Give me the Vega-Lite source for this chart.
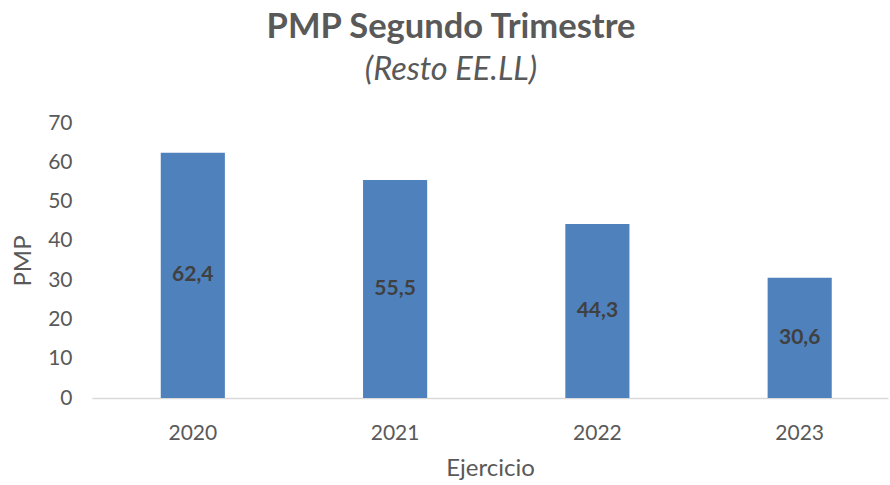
{
  "$schema": "https://vega.github.io/schema/vega-lite/v6.json",
  "width": 796,
  "height": 275,
  "autosize": {"type": "none"},
  "padding": {"left": 92, "top": 123, "right": 2, "bottom": 87},
  "background": "white",
  "config": {"view": {"stroke": null}},
  "title": {
    "text": "PMP Segundo Trimestre",
    "subtitle": "(Resto EE.LL)",
    "anchor": "middle",
    "frame": "group",
    "dx": -39,
    "offset": 25,
    "font": "Lato",
    "fontSize": 34.5,
    "fontWeight": "bold",
    "color": "#595959",
    "subtitleFont": "Lato",
    "subtitleFontSize": 32.5,
    "subtitleFontStyle": "italic",
    "subtitleColor": "#595959",
    "subtitlePadding": 8
  },
  "data": {
    "values": [
      {"Ejercicio": "2020", "PMP": 62.4, "label": "62,4"},
      {"Ejercicio": "2021", "PMP": 55.5, "label": "55,5"},
      {"Ejercicio": "2022", "PMP": 44.3, "label": "44,3"},
      {"Ejercicio": "2023", "PMP": 30.6, "label": "30,6"}
    ]
  },
  "encoding": {
    "x": {
      "field": "Ejercicio",
      "type": "nominal",
      "scale": {"paddingInner": 0.683, "paddingOuter": 0.309, "align": 0.55},
      "axis": {
        "title": "Ejercicio",
        "labelAngle": 0,
        "labelFont": "Lato",
        "labelFontSize": 21,
        "labelColor": "#595959",
        "labelPadding": 24,
        "ticks": false,
        "domainColor": "#D9D9D9",
        "domainWidth": 1.5,
        "titleFont": "Lato",
        "titleFontSize": 24,
        "titleFontWeight": "normal",
        "titleColor": "#595959",
        "titlePadding": 13
      }
    }
  },
  "layer": [
    {
      "mark": {"type": "bar", "color": "#4F81BD"},
      "encoding": {
        "y": {
          "field": "PMP",
          "type": "quantitative",
          "scale": {"domain": [0, 70]},
          "axis": {
            "title": "PMP",
            "values": [0, 10, 20, 30, 40, 50, 60, 70],
            "labelOverlap": false,
            "grid": false,
            "domain": false,
            "ticks": false,
            "labelFont": "Lato",
            "labelFontSize": 21,
            "labelColor": "#595959",
            "labelPadding": 20,
            "titleFont": "Lato",
            "titleFontSize": 24,
            "titleFontWeight": "normal",
            "titleColor": "#595959",
            "titlePadding": 12
          }
        }
      }
    },
    {
      "transform": [{"calculate": "datum.PMP / 2", "as": "mid"}],
      "mark": {"type": "text", "font": "Lato", "fontSize": 21, "fontWeight": "bold", "color": "#404040", "baseline": "middle"},
      "encoding": {
        "y": {
          "field": "mid",
          "type": "quantitative",
          "scale": {"domain": [0, 70]},
          "axis": {
            "title": "PMP",
            "values": [0, 10, 20, 30, 40, 50, 60, 70],
            "labelOverlap": false,
            "grid": false,
            "domain": false,
            "ticks": false,
            "labelFont": "Lato",
            "labelFontSize": 21,
            "labelColor": "#595959",
            "labelPadding": 20,
            "titleFont": "Lato",
            "titleFontSize": 24,
            "titleFontWeight": "normal",
            "titleColor": "#595959",
            "titlePadding": 12
          }
        },
        "text": {"field": "label"}
      }
    }
  ]
}
